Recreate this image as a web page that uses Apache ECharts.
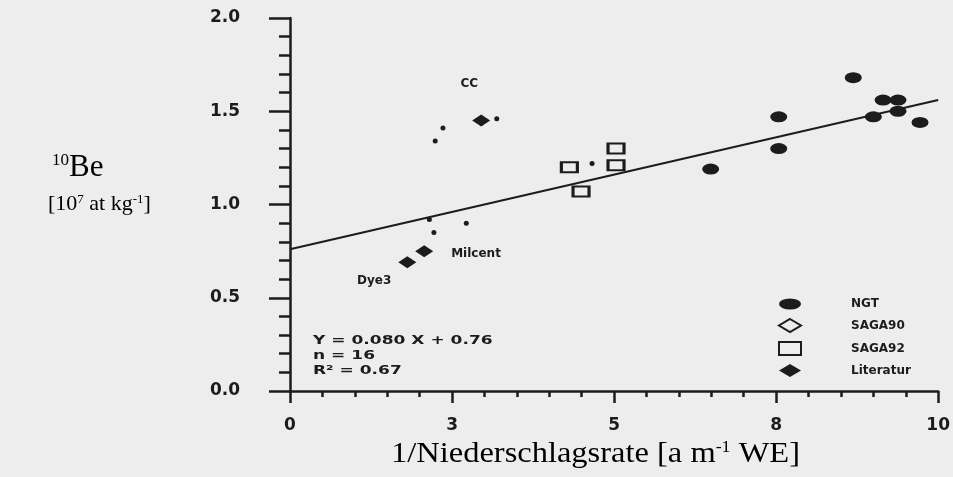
<!DOCTYPE html>
<html>
<head>
<meta charset="utf-8">
<script src="https://cdn.jsdelivr.net/npm/echarts@6/dist/echarts.min.js"></script>
<style>
  html, body { margin: 0; padding: 0; background: #ededed; }
  #chart { width: 953px; height: 477px; }
</style>
</head>
<body>
<div id="chart"></div>
<script>
// 10Be concentration plotted against the inverse accumulation rate
const xTickLabels = ['0', '3', '5', '8', '10'];
const yTickLabels = ['0.0', '0.5', '1.0', '1.5', '2.0'];
const seriesNames = ['NGT', 'SAGA90', 'SAGA92', 'Literatur'];

// [1/accumulation rate, 10Be]
const ngtPoints = [[8.69, 1.68], [9.15, 1.56], [9.38, 1.56], [9.00, 1.47], [9.38, 1.50],
                   [9.72, 1.44], [7.54, 1.47], [7.54, 1.30], [6.49, 1.19]];
const saga90Points = [[2.36, 1.41], [2.24, 1.34], [3.19, 1.46], [4.66, 1.22],
                      [2.15, 0.92], [2.22, 0.85], [2.72, 0.90]];
const saga92Points = [[4.31, 1.20], [4.49, 1.07], [5.03, 1.30], [5.03, 1.21]];
const literaturPoints = [[2.95, 1.45], [2.07, 0.75], [1.81, 0.69]];
const literaturSites = ['CC', 'Milcent', 'Dye3'];

// linear fit through NGT, SAGA92 and literature values
const fitSlope = 0.080;
const fitIntercept = 0.76;
const fitCount = 16;
const fitR2 = 0.67;
const fitRange = [0, 10];

const INK = '#1c1c1c';
const PAPER = '#ededed';
const SANS = '"DejaVu Sans", Verdana, sans-serif';
const SERIF = '"Liberation Serif", "Times New Roman", serif';

const ellipsePath = 'path://M0,5A10,5 0 1,0 20,5A10,5 0 1,0 0,5Z';

const fitLine = fitRange.map(x => [x, fitSlope * x + fitIntercept]);

// where each site name sits next to its marker
const siteLabelPlacement = {
  CC: { position: 'top', offset: [-12, -20] },
  Milcent: { position: 'right', offset: [13, 3] },
  Dye3: { position: 'left', offset: [-2, 19] }
};

const chart = echarts.init(document.getElementById('chart'), null, { renderer: 'canvas' });

const option = {
  backgroundColor: PAPER,
  animation: false,
  grid: { left: 290, top: 18, width: 650, height: 373, containLabel: false },
  xAxis: {
    type: 'value', min: 0, max: 10, interval: 2.5,
    axisLine: { show: true, onZero: false, lineStyle: { color: INK, width: 2.5 } },
    axisTick: { show: true, inside: false, length: 12, lineStyle: { color: INK, width: 2.5 } },
    minorTick: { show: true, splitNumber: 5, length: 6, lineStyle: { color: INK, width: 2.5 } },
    splitLine: { show: false },
    axisLabel: {
      margin: 26, color: INK, fontFamily: SANS, fontWeight: 'bold', fontSize: 17,
      formatter: v => xTickLabels[Math.round(v / 2.5)]
    }
  },
  yAxis: {
    type: 'value', min: 0, max: 2, interval: 0.5,
    axisLine: { show: true, onZero: false, lineStyle: { color: INK, width: 2.5 } },
    axisTick: { show: true, inside: false, length: 21, lineStyle: { color: INK, width: 2.5 } },
    minorTick: { show: true, splitNumber: 5, length: 11, lineStyle: { color: INK, width: 2.5 } },
    splitLine: { show: false },
    axisLabel: {
      margin: 50, color: INK, fontFamily: SANS, fontWeight: 'bold', fontSize: 17,
      formatter: v => yTickLabels[Math.round(v / 0.5)]
    }
  },
  legend: {
    orient: 'vertical', left: 773, top: 293,
    itemWidth: 22, itemHeight: 13, itemGap: 8,
    data: [
      { name: seriesNames[0], icon: ellipsePath },
      { name: seriesNames[1], icon: 'diamond',
        itemStyle: { color: PAPER, borderColor: INK, borderWidth: 2 } },
      { name: seriesNames[2], icon: 'rect',
        itemStyle: { color: PAPER, borderColor: INK, borderWidth: 2 } },
      { name: seriesNames[3], icon: 'diamond' }
    ],
    formatter: '{t|{name}}',
    textStyle: {
      rich: { t: { color: INK, fontFamily: SANS, fontWeight: 'bold', fontSize: 12, padding: [0, 0, 0, 45] } }
    }
  },
  series: [
    {
      name: 'fit', type: 'line', data: fitLine, showSymbol: false, symbol: 'none',
      lineStyle: { color: INK, width: 2 }, silent: true, z: 1
    },
    {
      name: seriesNames[0], type: 'scatter', data: ngtPoints,
      symbol: ellipsePath, symbolSize: [17, 11],
      itemStyle: { color: INK, opacity: 1 }, z: 3
    },
    {
      name: seriesNames[1], type: 'scatter', data: saga90Points,
      symbol: 'circle', symbolSize: 5,
      itemStyle: { color: INK, opacity: 1 }, z: 3
    },
    {
      name: seriesNames[2], type: 'scatter', data: saga92Points,
      symbol: 'rect', symbolSize: [16, 10],
      itemStyle: { color: PAPER, borderColor: INK, borderWidth: 2.5, opacity: 1 }, z: 3
    },
    {
      name: seriesNames[3], type: 'scatter',
      data: literaturPoints.map((p, i) => ({
        value: p,
        name: literaturSites[i],
        label: Object.assign({ show: true, formatter: literaturSites[i] },
                             siteLabelPlacement[literaturSites[i]])
      })),
      symbol: 'diamond', symbolSize: [18, 12],
      itemStyle: { color: INK, opacity: 1 },
      label: { color: INK, fontFamily: SANS, fontWeight: 'bold', fontSize: 12 },
      z: 3
    }
  ],
  graphic: [
    {
      type: 'text', x: 52, y: 152,
      style: {
        text: '{s|10}{n|Be}', textVerticalAlign: 'top',
        rich: {
          n: { fontFamily: SERIF, fontSize: 31, color: INK, verticalAlign: 'bottom' },
          s: { fontFamily: SERIF, fontSize: 17, color: INK, verticalAlign: 'top' }
        }
      }
    },
    {
      type: 'text', x: 48, y: 193,
      style: {
        text: '{n|[10}{s|7}{n| at kg}{s|-1}{n|]}', textVerticalAlign: 'top',
        rich: {
          n: { fontFamily: SERIF, fontSize: 22, color: INK, verticalAlign: 'bottom' },
          s: { fontFamily: SERIF, fontSize: 13, color: INK, verticalAlign: 'top' }
        }
      }
    },
    {
      type: 'text', x: 391, y: 440, scaleX: 1.12,
      style: {
        text: '{n|1/Niederschlagsrate [a m}{s|-1}{n| WE]}', textVerticalAlign: 'top',
        rich: {
          n: { fontFamily: SERIF, fontSize: 29, color: INK, verticalAlign: 'bottom' },
          s: { fontFamily: SERIF, fontSize: 16, color: INK, verticalAlign: 'top' }
        }
      }
    },
    {
      type: 'text', x: 313, y: 333, scaleX: 1.42,
      style: {
        text: 'Y = ' + fitSlope.toFixed(3) + ' X + ' + fitIntercept.toFixed(2) +
              '\nn = ' + fitCount + '\nR\u00b2 = ' + fitR2.toFixed(2),
        textVerticalAlign: 'top',
        fontFamily: SANS, fontWeight: 'bold', fontSize: 12, lineHeight: 15, fill: INK
      }
    }
  ]
};

chart.setOption(option);
</script>
</body>
</html>
